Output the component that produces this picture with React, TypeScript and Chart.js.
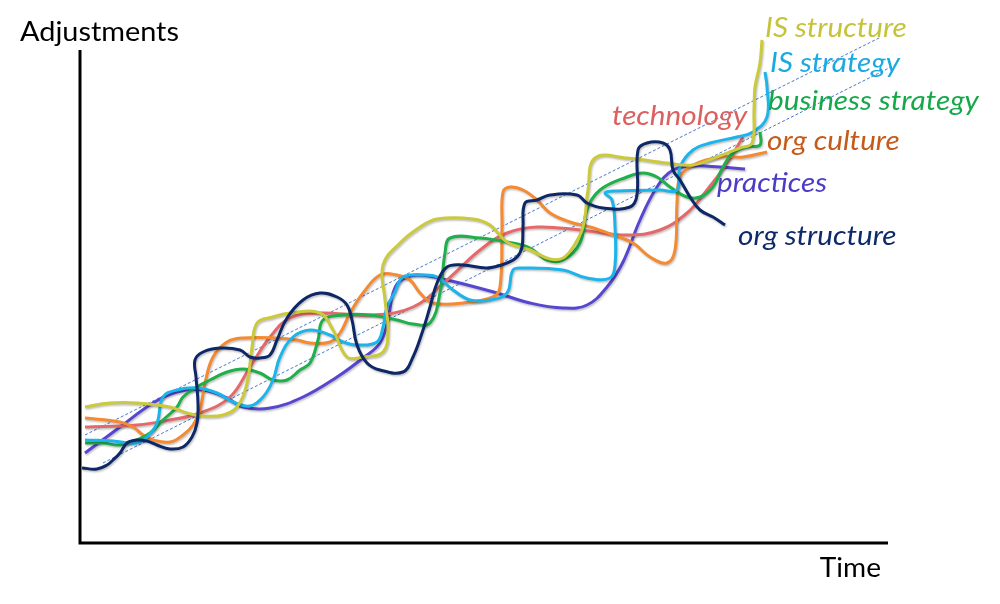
import React, { useEffect, useRef } from "react";
import { Chart, registerables } from "chart.js";
Chart.register(...registerables);

type P = [number, number];

// Time (x) vs Adjustments (y), arbitrary units
const orgStructure: P[] = [[2,75],[17,74],[27,78],[33,83],[40,90],[47,100],[57,103],[67,102],[77,98],[90,94],[103,96],[112,106],[117,120],[118,140],[116,166],[115,183],[123,191],[140,195],[160,193],[170,186],[180,185],[190,188],[197,203],[207,225],[223,243],[240,250],[257,246],[267,238],[272,223],[277,198],[287,180],[300,173],[323,171],[333,186],[342,210],[350,236],[357,260],[367,276],[383,278],[407,275],[427,280],[437,286],[442,296],[443,316],[445,340],[457,343],[470,348],[497,348],[507,340],[523,335],[550,336],[557,348],[558,393],[567,400],[583,400],[590,393],[593,373],[600,363],[610,346],[620,333],[633,326],[645,318]];
const isStructure: P[] = [[5,136],[30,140],[57,140],[90,136],[107,130],[123,127],[143,128],[157,136],[167,160],[172,196],[177,220],[193,226],[210,230],[240,230],[253,213],[267,186],[283,186],[303,191],[308,213],[305,243],[303,278],[320,300],[340,316],[357,324],[393,324],[410,318],[427,301],[450,293],[470,284],[483,285],[493,296],[503,316],[508,353],[515,385],[547,385],[587,380],[613,378],[637,386],[660,395],[672,400],[674,433],[675,456],[680,480],[682,503]];
const isStrategy: P[] = [[5,103],[33,102],[57,100],[67,106],[77,120],[83,146],[97,153],[117,155],[137,150],[153,141],[170,137],[183,146],[193,163],[200,186],[213,206],[230,213],[250,208],[263,201],[277,198],[297,201],[303,216],[307,236],[315,251],[323,266],[343,268],[357,266],[373,253],[390,243],[410,243],[427,250],[433,273],[443,275],[483,273],[507,265],[530,265],[535,278],[535,316],[532,343],[525,350],[537,352],[580,353],[597,353],[600,376],[613,393],[630,400],[657,406],[673,411],[687,426],[687,456],[685,471]];
const businessStrategy: P[] = [[5,100],[23,100],[40,98],[57,103],[70,110],[83,123],[97,136],[103,146],[117,156],[130,163],[147,171],[163,174],[180,170],[193,163],[207,163],[220,173],[230,180],[238,203],[243,223],[263,228],[290,228],[317,223],[333,219],[350,220],[360,250],[365,290],[370,305],[400,305],[427,301],[450,295],[467,283],[483,283],[500,300],[507,333],[520,353],[547,366],[563,370],[577,366],[590,356],[607,346],[620,346],[633,356],[643,376],[653,390],[667,396],[680,398],[680,411]];
const orgCulture: P[] = [[5,125],[40,121],[53,116],[63,108],[73,103],[90,101],[103,108],[113,118],[120,133],[125,160],[133,186],[147,201],[163,205],[197,205],[217,203],[230,200],[250,201],[260,210],[270,230],[283,250],[300,268],[317,268],[330,263],[340,250],[353,240],[383,240],[413,246],[420,256],[422,316],[423,351],[430,356],[443,353],[457,343],[470,330],[490,321],[510,316],[533,308],[553,300],[570,286],[587,280],[595,293],[597,340],[600,366],[613,378],[640,386],[663,386],[687,391]];
const technology: P[] = [[5,116],[57,118],[90,123],[120,130],[150,146],[170,176],[190,206],[210,225],[240,230],[290,228],[333,236],[367,263],[400,293],[427,310],[457,316],[500,313],[547,308],[580,313],[607,330],[627,353],[647,380],[663,406]];
const practices: P[] = [[5,90],[40,116],[73,140],[97,151],[123,153],[147,145],[163,136],[190,135],[223,146],[257,166],[283,185],[300,200],[308,223],[313,250],[320,262],[337,268],[367,263],[417,250],[450,240],[483,235],[507,238],[527,256],[543,281],[560,323],[577,356],[593,373],[613,377],[640,376],[665,374]];
const trendUpper: P[] = [[5,108],[801,506]];
const trendLower: P[] = [[23,80],[815,478]];

const seriesNames = ["org structure", "IS structure", "IS strategy", "business strategy", "org culture", "technology", "practices"];
const seriesData = [orgStructure, isStructure, isStrategy, businessStrategy, orgCulture, technology, practices];
const lineColors = ["#0E2766", "#CBC93C", "#1CB4EA", "#1FAF4B", "#F48A32", "#E5686A", "#5646D0"];
const labelColors = ["#0E2A6A", "#C5C33A", "#1BA9E2", "#15A84A", "#C55A1A", "#DD6060", "#4A3CC6"];
// label anchor in data units (left edge, baseline)
const labelPos: P[] = [[658,298],[685,506],[690,471],[688,433],[687,393],[532,418],[637,351]];

export default function App() {
  const ref = useRef<HTMLCanvasElement>(null);
  useEffect(() => {
    document.body.style.margin = "0";
    const canvas = ref.current!;
    const stretched = (ctx: any, t: string, x: number, y: number, sx: number, align: string) => {
      ctx.save();
      ctx.translate(x, y);
      ctx.scale(sx, 1);
      ctx.textAlign = align;
      ctx.fillText(t, 0, 0);
      ctx.restore();
    };
    const labelsPlugin = {
      id: "labels",
      afterDraw(chart: any) {
        const ctx = chart.ctx;
        const a = chart.chartArea;
        const xs = chart.scales.x, ys = chart.scales.y;
        ctx.save();
        ctx.strokeStyle = "#000";
        ctx.lineWidth = 3;
        ctx.beginPath();
        ctx.moveTo(a.left, a.top);
        ctx.lineTo(a.left, a.bottom);
        ctx.lineTo(a.right, a.bottom);
        ctx.stroke();
        ctx.fillStyle = "#000";
        ctx.font = "26px Lato";
        ctx.textBaseline = "alphabetic";
        stretched(ctx, "Adjustments", 20, 41, 1.11, "left");
        stretched(ctx, "Time", a.right - 7, 577, 1.08, "right");
        ctx.font = "italic 27px Lato";
        seriesNames.forEach((n, i) => {
          ctx.fillStyle = labelColors[i];
          stretched(ctx, n, xs.getPixelForValue(labelPos[i][0]), ys.getPixelForValue(labelPos[i][1]), 1.1, "left");
        });
        ctx.restore();
      },
    };
    const shadowPlugin = {
      id: "shadow",
      beforeDatasetDraw(chart: any, args: any) {
        const ctx = chart.ctx;
        ctx.save();
        if (args.index < seriesData.length) {
          ctx.shadowColor = "rgba(0,0,0,0.25)";
          ctx.shadowBlur = 2;
          ctx.shadowOffsetX = 1;
          ctx.shadowOffsetY = 1.5;
        }
      },
      afterDatasetDraw(chart: any) {
        chart.ctx.restore();
      },
    };
    const datasets: any[] = seriesData.map((d, i) => ({
      label: seriesNames[i],
      data: d.map(([x, y]) => ({ x, y })),
      showLine: true,
      borderColor: lineColors[i],
      backgroundColor: lineColors[i],
      borderWidth: 3,
      tension: 0.4,
      pointRadius: 0,
      clip: false,
    }));
    [trendUpper, trendLower].forEach((d, i) => {
      datasets.push({
        label: "trend" + i,
        data: d.map(([x, y]) => ({ x, y })),
        showLine: true,
        borderColor: "#4A76C9",
        borderWidth: 1,
        borderDash: [3, 2],
        pointRadius: 0,
        clip: false,
      });
    });
    const chart = new Chart(canvas, {
      type: "scatter",
      data: { datasets },
      options: {
        animation: false,
        responsive: false,
        layout: { padding: { left: 80, right: 112, top: 50, bottom: 61 } },
        scales: {
          x: { type: "linear", min: 0, max: 808, display: false },
          y: { type: "linear", min: 0, max: 493, display: false },
        },
        plugins: { legend: { display: false }, tooltip: { enabled: false } },
      },
      plugins: [shadowPlugin, labelsPlugin],
    });
    return () => chart.destroy();
  }, []);
  return <canvas ref={ref} width={1000} height={604} style={{ display: "block" }} />;
}
